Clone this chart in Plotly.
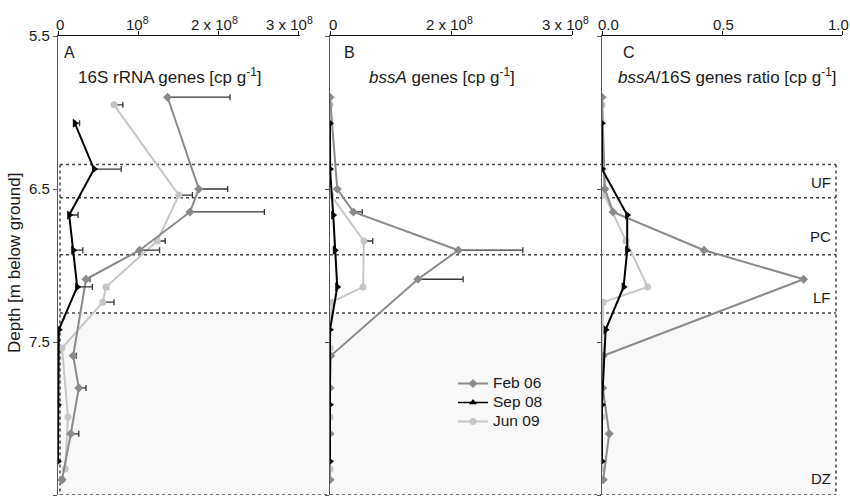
import plotly.graph_objects as go

# ---------------- data ----------------
depth_feb = [5.90, 6.50, 6.65, 6.90, 7.09, 7.59, 7.80, 8.10, 8.40]
a_feb = [1.37, 1.76, 1.65, 1.02, 0.35, 0.19, 0.26, 0.16, 0.05]          # 16S, x 1e8
a_feb_err = [0.78, 0.36, 0.93, 0.25, 0.05, 0.04, 0.09, 0.10, 0.02]
b_feb = [0.0, 0.09, 0.29, 1.59, 1.09, 0.01, 0.0, 0.0, 0.0]
b_feb_err = [0, 0, 0.11, 0.80, 0.56, 0, 0, 0, 0]
c_feb = [0.0, 0.012, 0.046, 0.425, 0.84, 0.005, 0.003, 0.03, 0.005]

depth_sep = [6.07, 6.37, 6.67, 6.90, 7.14, 7.42, 7.91, 8.28]
a_sep = [0.21, 0.45, 0.14, 0.19, 0.24, 0.01, 0.0, 0.0]
a_sep_err = [0.06, 0.34, 0.11, 0.12, 0.19, 0, 0, 0]
b_sep = [0.0, 0.0, 0.04, 0.06, 0.09, 0.0, 0.0, 0.0]
c_sep = [0.0, 0.0, 0.105, 0.105, 0.09, 0.015, 0.0, 0.0]

depth_jun = [5.95, 6.54, 6.84, 7.14, 7.24, 7.54, 7.99, 8.33]
a_jun = [0.70, 1.51, 1.24, 0.60, 0.56, 0.05, 0.125, 0.09]
a_jun_err = [0.11, 0.17, 0.10, 0.03, 0.14, 0, 0, 0]
b_jun = [0.0, 0.01, 0.42, 0.41, 0.02, 0.0, 0.0, 0.0]
b_jun_err = [0, 0, 0.11, 0, 0, 0, 0, 0]
c_jun = [0.0, 0.01, 0.10, 0.19, 0.005, 0.0, 0.0, 0.0]

zone_bounds = [6.34, 6.557, 6.93, 7.31, 8.5]
zone_labels = ["UF", "PC", "LF", "DZ"]
zone_label_depths = [6.46, 6.81, 7.21, 8.39]

a_ticks = [0, 1, 2, 3]
a_ticktext = ["0", "10<sup>8</sup>", "2 x 10<sup>8</sup>", "3 x 10<sup>8</sup>"]
b_ticks = [0, 1.5, 3]
b_ticktext = ["0", "2 x 10<sup>8</sup>", "3 x 10<sup>8</sup>"]
c_ticks = [0, 0.5, 1.0]
c_ticktext = ["0.0", "0.5", "1.0"]
depth_ticks = [5.5, 6.5, 7.5, 8.5]
series_names = ["Feb 06", "Sep 08", "Jun 09"]

# ---------------- layout helpers ----------------
W, H = 850, 498
ML, MR, MT, MB = 58, 8, 36, 3
PW, PH = W - ML - MR, H - MT - MB
FONT = "Liberation Sans, Arial, sans-serif"
TXT = "#1a1a1a"


def px(xp):
    return (xp - ML) / PW


def py(yp):
    return 1 - (yp - MT) / PH


COL_FEB, COL_SEP, COL_JUN = "#8a8a8a", "#000000", "#c6c6c6"
ERR = dict(type="data", symmetric=False, color="#333333", thickness=1.3, width=3)

fig = go.Figure()


def err(vals):
    return dict(ERR, array=vals, arrayminus=[0] * len(vals))


def add(x, y, xa, ya, color, symbol, size, errv=None):
    fig.add_trace(go.Scatter(
        x=x, y=y, xaxis=xa, yaxis=ya, mode="lines+markers",
        line=dict(color=color, width=2),
        marker=dict(color=color, symbol=symbol, size=size),
        error_x=err(errv) if errv is not None else None,
        showlegend=False, hoverinfo="skip"))


panels = [
    ("x", "y", a_jun, a_jun_err, a_feb, a_feb_err, a_sep, a_sep_err),
    ("x2", "y2", b_jun, b_jun_err, b_feb, b_feb_err, b_sep, None),
    ("x3", "y3", c_jun, None, c_feb, None, c_sep, None),
]
for xa, ya, jv, je, fv, fe, sv, se in panels:
    add(jv, depth_jun, xa, ya, COL_JUN, "circle", 7, je)
    add(fv, depth_feb, xa, ya, COL_FEB, "diamond", 7, fe)
    add(sv, depth_sep, xa, ya, COL_SEP, "triangle-right", 8, se)

# legend entries
for name, col, sym in zip(series_names, [COL_FEB, COL_SEP, COL_JUN],
                          ["diamond", "triangle-up", "circle"]):
    fig.add_trace(go.Scatter(x=[None], y=[None], mode="lines+markers",
                             name=f'<span style="font-size:15.5px">{name}</span>',
                             line=dict(color=col, width=1.5 if col == COL_SEP else 2),
                             marker=dict(color=col, symbol=sym, size=7),
                             xaxis="x2", yaxis="y2"))

# ---------------- axes ----------------
doms = [(58, 300), (330, 572), (602, 842)]
ranges = [[0, 3.025], [0, 3], [0, 1]]
ticks = [(a_ticks, a_ticktext), (b_ticks, b_ticktext), (c_ticks, c_ticktext)]
label_nudge = [[2, -1, -4, -9], [3, -2, -7], [6, 1, -4]]
ann = []
for i in range(3):
    sfx = "" if i == 0 else str(i + 1)
    fig.layout["xaxis" + sfx] = dict(
        domain=[px(doms[i][0]), px(doms[i][1])], range=ranges[i], side="top",
        anchor="y" + sfx, showline=True, linecolor="#111", linewidth=1.3,
        ticks="outside", ticklen=4, tickcolor="#111", tickvals=ticks[i][0],
        showticklabels=False, showgrid=False, zeroline=False, automargin=False)
    fig.layout["yaxis" + sfx] = dict(
        domain=[py(495), py(36)], range=[8.5, 5.5], anchor="x" + sfx,
        showline=True, linecolor="#555", linewidth=1.3, ticks="outside",
        ticklen=4, tickcolor="#555", tickvals=depth_ticks,
        ticktext=[f"{v:.1f}" for v in depth_ticks], showticklabels=(i == 0),
        showgrid=False, zeroline=False, automargin=False,
        tickfont=dict(family=FONT, size=15, color=TXT))
    # top tick labels (placed at the tick positions of each axis)
    x0, x1 = doms[i]
    r0, r1 = ranges[i]
    for v, t, nd in zip(ticks[i][0], ticks[i][1], label_nudge[i]):
        xpix = x0 + (v - r0) / (r1 - r0) * (x1 - x0) + nd
        ann.append(dict(text=t, xref="paper", yref="paper", x=px(xpix), y=py(34),
                        xanchor="center", yanchor="bottom", showarrow=False,
                        borderpad=0, font=dict(family=FONT, size=15, color=TXT)))

# ---------------- zones ----------------
shapes = []
shapes.append(dict(type="rect", xref="paper", yref="y", x0=px(60), x1=px(836),
                   y0=zone_bounds[3], y1=zone_bounds[4], fillcolor="#f8f8f8",
                   line=dict(width=0), layer="below"))
dot = dict(color="#444", width=1.5, dash="dot")
for b in zone_bounds:
    shapes.append(dict(type="line", xref="paper", yref="y", x0=px(60), x1=px(836),
                       y0=b, y1=b, line=dot, layer="below"))
for xv in (60, 836):
    shapes.append(dict(type="line", xref="paper", yref="y", x0=px(xv), x1=px(xv),
                       y0=zone_bounds[0], y1=zone_bounds[-1], line=dot, layer="below"))
fig.update_layout(shapes=shapes)

for lab, d in zip(zone_labels, zone_label_depths):
    ann.append(dict(text=lab, xref="paper", yref="y", x=px(833), y=d, xanchor="right",
                    yanchor="middle", showarrow=False,
                    font=dict(family=FONT, size=15, color=TXT)))
for lab, xp in [("A", 62), ("B", 342), ("C", 621)]:
    ann.append(dict(text=lab, xref="paper", yref="paper", x=px(xp), y=py(52),
                    xanchor="left", yanchor="middle", showarrow=False,
                    font=dict(family=FONT, size=16, color=TXT)))
titles = [("16S rRNA genes [cp g<sup>-1</sup>]", 76),
          ("<i>bssA</i> genes [cp g<sup>-1</sup>]", 367),
          ("<i>bssA</i>/16S genes ratio [cp g<sup>-1</sup>]", 616)]
for t, xp in titles:
    ann.append(dict(text=t, xref="paper", yref="paper", x=px(xp), y=py(76),
                    xanchor="left", yanchor="middle", showarrow=False,
                    font=dict(family=FONT, size=17, color=TXT)))
ann.append(dict(text="Depth [m below ground]", xref="paper", yref="paper",
                x=px(14), y=py(263), textangle=-90, xanchor="center", yanchor="middle",
                showarrow=False, font=dict(family=FONT, size=17, color=TXT)))
fig.update_layout(annotations=ann)

fig.update_layout(
    width=W, height=H, margin=dict(l=ML, r=MR, t=MT, b=MB, autoexpand=False),
    paper_bgcolor="white", plot_bgcolor="rgba(0,0,0,0)",
    font=dict(family=FONT, color=TXT),
    showlegend=True,
    legend=dict(x=px(453), y=py(369), xanchor="left", yanchor="top",
                bgcolor="rgba(0,0,0,0)", borderwidth=0, tracegroupgap=0,
                font=dict(family=FONT, size=12, color=TXT)),
)

fig.write_html("out.html")
